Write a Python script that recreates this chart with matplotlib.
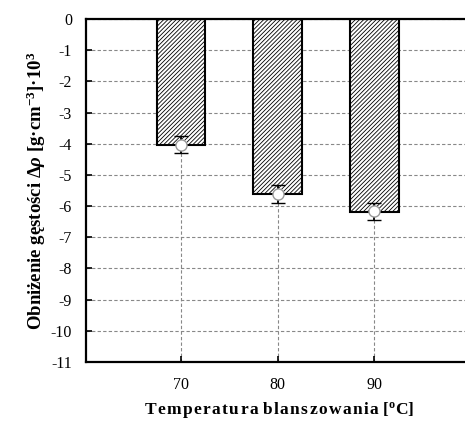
import matplotlib
matplotlib.use("Agg")
import matplotlib.pyplot as plt

temps = [70, 80, 90]
bar_vals = [-4.05, -5.62, -6.2]
point_vals = [-4.03, -5.61, -6.17]
errors = [0.28, 0.28, 0.27]
yticks = list(range(0, -12, -1))

plt.rcParams['font.family'] = ['Liberation Serif', 'DejaVu Serif']
plt.rcParams['axes.unicode_minus'] = False
plt.rcParams['mathtext.fontset'] = 'custom'
plt.rcParams['mathtext.rm'] = 'Liberation Serif:bold'
plt.rcParams['mathtext.it'] = 'Liberation Serif:italic:bold'
plt.rcParams['mathtext.bf'] = 'Liberation Serif:bold'
plt.rcParams['hatch.linewidth'] = 0.6
plt.rcParams['hatch.color'] = '#444444'

W, H = 465, 433
fig = plt.figure(figsize=(W/100, H/100), dpi=100)
ax = fig.add_axes([86/W, 1 - 362/H, 387/W, (362-19)/H])

ax.set_axisbelow(True)
ax.bar(temps, bar_vals, width=5.0, color='white', edgecolor='black',
       linewidth=1.5, hatch='////////', zorder=2)
ax.errorbar(temps, point_vals, yerr=errors, fmt='o', color='black',
            ecolor='black', elinewidth=1.3, capsize=5, capthick=1.5,
            markersize=8, markerfacecolor='white', markeredgecolor='#999999',
            markeredgewidth=1.0, zorder=4)

ax.set_xlim(60.2, 100.2)
ax.set_ylim(-11, 0)
ax.set_xticks(temps)
ax.set_yticks(yticks)
ax.set_yticklabels([str(t) for t in yticks])
ax.grid(True, linestyle=(0, (3, 2)), color='#888888', linewidth=0.8)
for side in ['left', 'top', 'bottom']:
    ax.spines[side].set_linewidth(1.6)
ax.spines['right'].set_visible(False)
ax.tick_params(direction='in', length=4, width=1.2, labelsize=11.5)
ax.tick_params(axis='y', pad=10)
ax.tick_params(axis='x', pad=11)

ax.set_ylabel(r'Obniżenie gęstości $\mathit{\Delta\rho}$ [g·cm$^{-3}$]·10$^{3}$',
              fontsize=13.5, fontweight='bold', labelpad=2)
xl = 'Temperatura blanszowania'
xl = ' '.join('\u200a'.join(w) for w in xl.split(' '))
ax.set_xlabel(xl + r' [$^{\mathrm{o}}$C]', fontsize=12.5, fontweight='bold', labelpad=5)

fig.savefig('out.png', dpi=100)
